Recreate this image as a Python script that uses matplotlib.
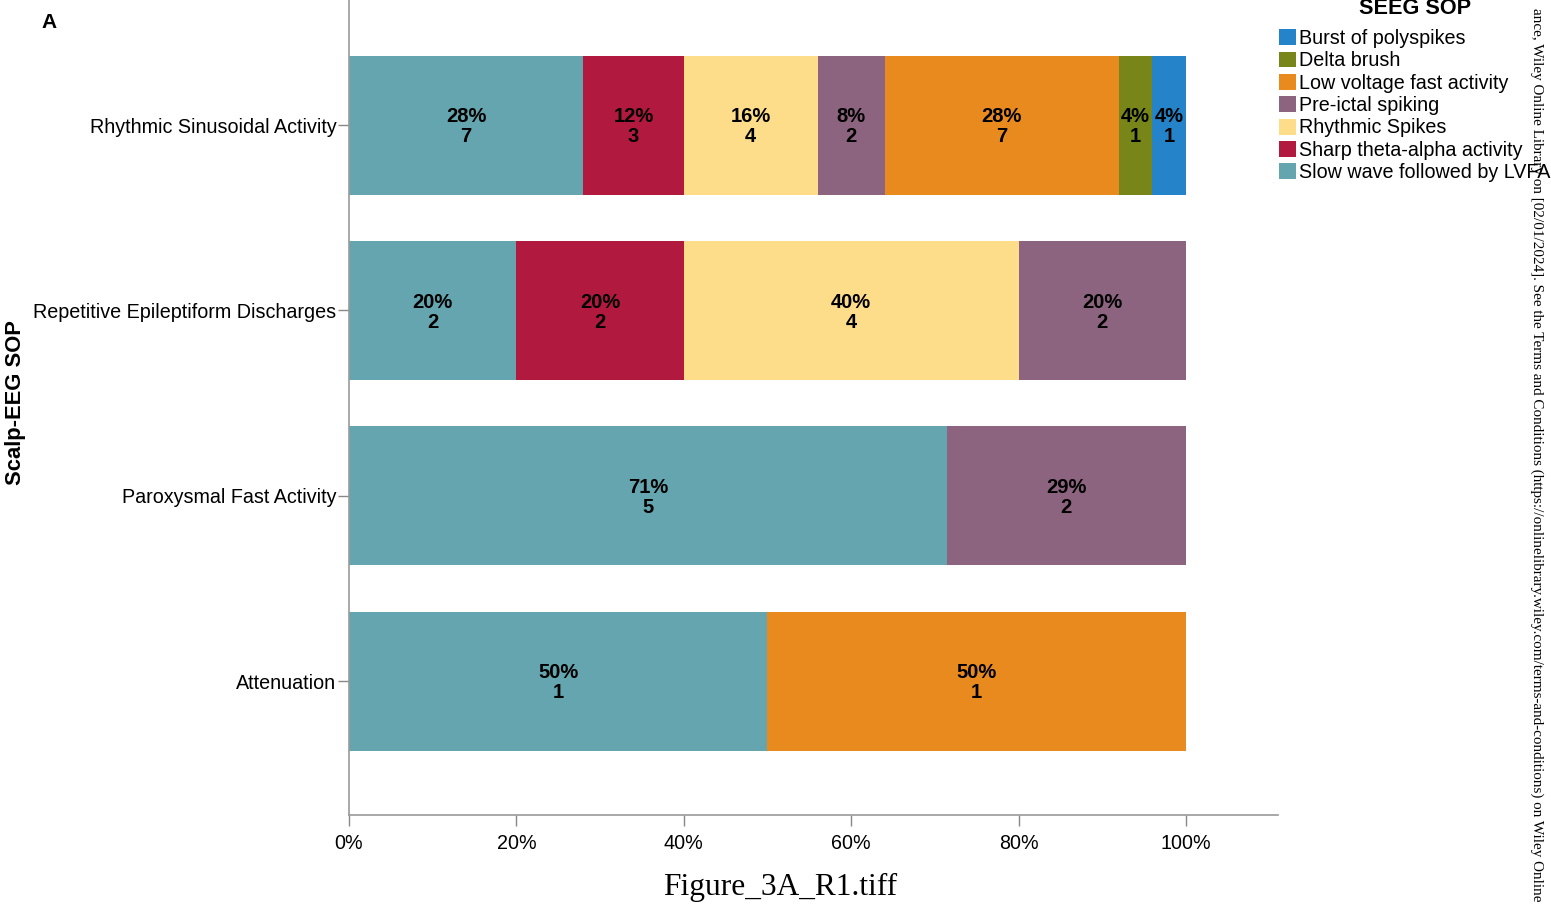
import numpy as np
import matplotlib
matplotlib.use('Agg')
import matplotlib.pyplot as plt
from matplotlib.patches import Patch

plt.rcParams['font.family'] = ['Liberation Sans', 'DejaVu Sans']

# scalp-EEG categories, bottom to top
categories = ['Attenuation', 'Paroxysmal Fast Activity',
              'Repetitive Epileptiform Discharges', 'Rhythmic Sinusoidal Activity']

# SEEG SOP series, in stacking order (left to right)
series = ['Slow wave followed by LVFA', 'Sharp theta-alpha activity',
          'Rhythmic Spikes', 'Pre-ictal spiking', 'Low voltage fast activity',
          'Delta brush', 'Burst of polyspikes']
colors = ['#64A5AF', '#B2193E', '#FDDD8A', '#8C6480', '#E88A1E', '#778519', '#2584C9']

# counts per category (same order as categories)
slow_wave = [1, 5, 2, 7]
sharp_theta = [0, 0, 2, 3]
rhythmic_spikes = [0, 0, 4, 4]
preictal = [0, 2, 2, 2]
lvfa = [1, 0, 0, 7]
delta_brush = [0, 0, 0, 1]
burst = [0, 0, 0, 1]

counts = np.array([slow_wave, sharp_theta, rhythmic_spikes, preictal,
                   lvfa, delta_brush, burst], dtype=float)
totals = counts.sum(axis=0)
fracs = counts / totals

fig = plt.figure(figsize=(15.51, 9.10), dpi=100)
ax = fig.add_axes([349/1551, 95/910, 929/1551, 815/910])

y = np.arange(len(categories))
left = np.zeros(len(categories))
for i, name in enumerate(series):
    ax.barh(y, fracs[i], left=left, height=0.75, color=colors[i],
            edgecolor='none', label=name)
    for j in range(len(categories)):
        if counts[i, j] > 0:
            ax.text(left[j] + fracs[i, j] / 2, y[j] - 0.01,
                    f'{fracs[i, j]*100:.0f}%\n{int(counts[i, j])}',
                    ha='center', va='center', fontsize=14.5, fontweight='bold',
                    linespacing=1.07, color='black')
    left += fracs[i]

ax.set_xlim(0, 1.11)
ax.set_ylim(-0.723, 3.675)
ax.set_xticks(np.arange(0, 1.01, 0.2))
ax.set_xticklabels([f'{int(round(v*100))}%' for v in np.arange(0, 1.01, 0.2)])
ax.set_yticks(y)
ax.set_yticklabels(categories)
ax.tick_params(axis='both', labelsize=14.2, color='#888888', length=8, width=1)
ax.tick_params(axis='x', pad=6)
ax.tick_params(axis='y', pad=1)
for s in ['top', 'right']:
    ax.spines[s].set_visible(False)
for s in ['left', 'bottom']:
    ax.spines[s].set_color('#999999')
    ax.spines[s].set_linewidth(1.2)

fig.text(16/1551, 1 - 403/910, 'Scalp-EEG SOP', rotation=90, ha='center',
         va='center', fontsize=15.8, fontweight='bold')
fig.text(49/1551, 1 - 22/910, 'A', ha='center', va='center', fontsize=15,
         fontweight='bold')

# legend title placed separately to control its gap
fig.text(1415/1551, 1 - 9/910, 'SEEG SOP', ha='center', va='center',
         fontsize=15.6, fontweight='bold')
handles = [Patch(facecolor=c, edgecolor='none') for c in colors][::-1]
leg = fig.legend(handles, series[::-1], loc='upper left',
                 bbox_to_anchor=(1279/1551, 1 - 29/910), frameon=False,
                 fontsize=14.2, handlelength=0.86,
                 handleheight=0.86, handletextpad=0.15, labelspacing=0.17,
                 borderaxespad=0, borderpad=0)

fig.text(780/1551, 1 - 887/910, 'Figure_3A_R1.tiff', ha='center', va='center',
         fontsize=22.6, family=['Liberation Serif', 'DejaVu Serif'])

fig.text(1537/1551, 0.5,
         'ance, Wiley Online Library on [02/01/2024]. See the Terms and Conditions '
         '(https://onlinelibrary.wiley.com/terms-and-conditions) on Wiley Online',
         rotation=-90, ha='center', va='center', fontsize=10.9,
         family=['Liberation Serif', 'DejaVu Serif'])

fig.savefig('out.png', dpi=100)
